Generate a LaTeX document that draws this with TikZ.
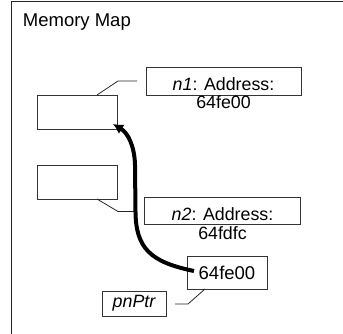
\documentclass[tikz,border=0pt]{standalone}
\usepackage{fontspec}
\setmainfont{Liberation Sans}
\usetikzlibrary{arrows.meta}
\begin{document}
\begin{tikzpicture}[x=1pt,y=-1pt,
  box/.style={draw=black!80,line width=0.9pt,inner sep=0pt},
  lead/.style={draw=black!85,line width=0.8pt},
  txt/.style={inner sep=0pt,anchor=base,font=\fontsize{17.8}{19}\selectfont},
  ptrarrow/.style={line width=4pt,-{Latex[length=10pt,width=11pt]}}]
\useasboundingbox (0,0) rectangle (343,333);
\fill[white] (0,0) rectangle (343,333);
% frame
\draw[line width=1.4pt,black!85] (11.5,334) -- (11.5,1.5) -- (344,1.5);
\node[txt,anchor=base west,font=\fontsize{18.5}{20}\selectfont] (title) at (22.7,26) {Memory Map};
% memory cells
\node[box,minimum width=80,minimum height=34] (m1) at (77,112) {};
\node[box,minimum width=80,minimum height=34] (m2) at (77,182) {};
% callouts
\node[box,minimum width=155,minimum height=28] (c1) at (223.5,81) {};
\node[txt] (c1a) at (223.5,90) {\textit{n1}: Address:};
\node[txt] (c1b) at (223.5,108.5) {64fe00};
\node[box,minimum width=156,minimum height=27] (c2) at (222.5,211) {};
\node[txt] (c2a) at (222.5,220.5) {\textit{n2}: Address:};
\node[txt] (c2b) at (222.5,239) {64fdfc};
% pointer
\node[box,minimum width=80,minimum height=33,font=\fontsize{18.5}{20}\selectfont] (ptr) at (227,272.5) {64fe00};
\node[box,minimum width=64,minimum height=25,font=\fontsize{17.8}{19}\itshape] (pn) at (134,303.5) {pnPtr};
% leader coordinates
\coordinate (l1a) at (97,95);
\coordinate (l1b) at (118,81);
\coordinate (l1c) at (137,81);
\coordinate (l2a) at (97,199);
\coordinate (l2b) at (118,211.5);
\coordinate (l2c) at (135,211.5);
\coordinate (l3a) at (175,304);
\coordinate (l3b) at (188,304);
\coordinate (l3c) at (205,289);
\draw[lead] (l1a) -- (l1b) -- (l1c);
\draw[lead] (l2a) -- (l2b) -- (l2c);
\draw[lead] (l3a) -- (l3b) -- (l3c);
% arrow
\coordinate (as) at (194,271);
\coordinate (am) at (135.5,212);
\coordinate (an) at (135,165);
\coordinate (at1) at (113,124);
\draw[ptrarrow] (as) .. controls (150,262) and (136,248) .. (am) -- (an) .. controls (134.5,146) and (128,133) .. (at1);
\end{tikzpicture}
\end{document}
